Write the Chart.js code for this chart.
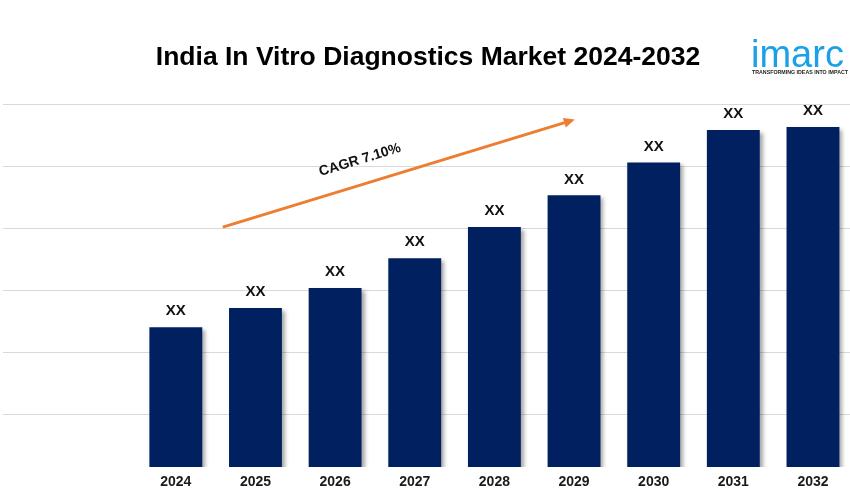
<!DOCTYPE html>
<html>
<head>
<meta charset="utf-8">
<script src="https://cdn.jsdelivr.net/npm/chart.js@4/dist/chart.umd.min.js"></script>
<style>
html,body{margin:0;padding:0;background:#fff;}
#wrap{width:850px;height:496px;position:relative;}
</style>
</head>
<body>
<div id="wrap"><canvas id="c" width="850" height="496"></canvas></div>
<script>
const years = [2024, 2025, 2026, 2027, 2028, 2029, 2030, 2031, 2032];
const values = [2.25, 2.56, 2.88, 3.36, 3.86, 4.37, 4.90, 5.42, 5.47];
const valueLabels = ['XX', 'XX', 'XX', 'XX', 'XX', 'XX', 'XX', 'XX', 'XX'];
const gridValues = [0.84, 1.84, 2.84, 3.84, 4.84, 5.84];
const titleText = 'India In Vitro Diagnostics Market 2024-2032';
const cagrText = 'CAGR 7.10%';

const barShadow = {
  id: 'barShadow',
  beforeDatasetsDraw(chart) {
    const ctx = chart.ctx;
    ctx.save();
    ctx.shadowColor = 'rgba(0,0,0,0.35)';
    ctx.shadowBlur = 4;
    ctx.shadowOffsetX = 3;
    ctx.shadowOffsetY = 3;
  },
  afterDatasetsDraw(chart) {
    chart.ctx.restore();
  }
};

const decor = {
  id: 'decor',
  afterDraw(chart) {
    const ctx = chart.ctx;
    const xs = chart.scales.x, ys = chart.scales.y;
    const meta = chart.getDatasetMeta(0);
    ctx.save();
    ctx.font = 'bold 15px "Liberation Sans", Arial, sans-serif';
    ctx.fillStyle = '#111';
    ctx.textAlign = 'center';
    ctx.textBaseline = 'middle';
    meta.data.forEach((bar, i) => {
      ctx.fillText(valueLabels[i], bar.x, bar.y - 16);
    });
    // title
    ctx.font = 'bold 26.5px "Liberation Sans", Arial, sans-serif';
    ctx.fillStyle = '#000';
    ctx.fillText(titleText, 428, 58);
    // CAGR arrow
    const x1 = xs.getPixelForValue(2024.59), y1 = ys.getPixelForValue(3.86);
    const x2 = xs.getPixelForValue(2029.01), y2 = ys.getPixelForValue(5.59);
    const ang = Math.atan2(y2 - y1, x2 - x1);
    ctx.strokeStyle = '#ED7D31';
    ctx.fillStyle = '#ED7D31';
    ctx.lineWidth = 3;
    ctx.beginPath();
    ctx.moveTo(x1, y1);
    ctx.lineTo(x2 - 8 * Math.cos(ang), y2 - 8 * Math.sin(ang));
    ctx.stroke();
    ctx.beginPath();
    ctx.moveTo(x2, y2);
    ctx.lineTo(x2 - 11 * Math.cos(ang) + 5 * Math.sin(ang), y2 - 11 * Math.sin(ang) - 5 * Math.cos(ang));
    ctx.lineTo(x2 - 11 * Math.cos(ang) - 5 * Math.sin(ang), y2 - 11 * Math.sin(ang) + 5 * Math.cos(ang));
    ctx.closePath();
    ctx.fill();
    // CAGR text
    ctx.save();
    ctx.translate(360, 160);
    ctx.rotate(ang);
    ctx.font = 'bold 14px "Liberation Sans", Arial, sans-serif';
    ctx.fillStyle = '#111';
    ctx.fillText(cagrText, 0, 0);
    ctx.restore();
    // logo
    ctx.textAlign = 'left';
    ctx.textBaseline = 'alphabetic';
    ctx.font = '38px "Liberation Sans", Arial, sans-serif';
    ctx.fillStyle = '#1AA0E6';
    ctx.fillText('imarc', 751, 67, 97);
    ctx.font = 'bold 6px "Liberation Sans", Arial, sans-serif';
    ctx.fillStyle = '#222';
    ctx.fillText('TRANSFORMING IDEAS INTO IMPACT', 752, 74, 96);
    ctx.restore();
  }
};

new Chart(document.getElementById('c'), {
  type: 'bar',
  data: {
    datasets: [{
      data: years.map((y, i) => ({ x: y, y: values[i] })),
      backgroundColor: '#002060',
      borderWidth: 0,
      barPercentage: 0.83,
      categoryPercentage: 0.8
    }]
  },
  options: {
    responsive: false,
    animation: false,
    events: [],
    layout: { padding: { top: 104, left: 3, right: 0, bottom: 0 } },
    plugins: { legend: { display: false }, tooltip: { enabled: false }, title: { display: false } },
    scales: {
      x: {
        type: 'linear',
        min: 2021.83,
        max: 2032.465,
        offset: false,
        grid: { display: false, drawTicks: false },
        border: { display: false },
        afterBuildTicks(scale) { scale.ticks = years.map(v => ({ value: v })); },
        afterFit(scale) { scale.height = 29; },
        ticks: {
          autoSkip: false,
          maxRotation: 0,
          padding: 7,
          color: '#1a1a1a',
          font: { family: '"Liberation Sans", Arial, sans-serif', size: 14, weight: 'bold' },
          callback: v => String(v)
        }
      },
      y: {
        min: 0,
        max: 5.84,
        grid: { color: '#d9d9d9', lineWidth: 1, drawTicks: false },
        border: { display: false },
        afterBuildTicks(scale) { scale.ticks = gridValues.map(v => ({ value: v })); },
        afterFit(scale) { scale.width = 0; },
        ticks: { display: false }
      }
    }
  },
  plugins: [barShadow, decor]
});
</script>
</body>
</html>
